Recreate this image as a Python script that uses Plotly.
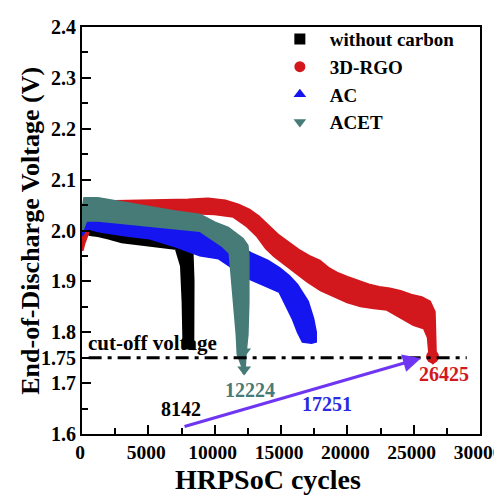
import plotly.graph_objects as go

FONT = "Liberation Serif"

# ---------------- data (cycles, voltage envelopes of each dense band) ----------------
# without carbon
black_up_x = [400, 1000, 2000, 3000, 4000, 5000, 6000, 6600, 7100, 7500, 7620, 7690]
black_up_y = [2.005, 2.01, 2.005, 2.0, 1.998, 1.995, 1.99, 1.982, 1.965, 1.93, 1.86, 1.77]
black_lo_x = [8350, 8370, 8300, 8000, 7000, 6000, 5000, 4000, 3000, 2000, 1200, 600, 400]
black_lo_y = [1.768, 1.90, 1.955, 1.962, 1.965, 1.968, 1.972, 1.975, 1.978, 1.985, 1.99, 1.992, 1.995]

# 3D-RGO
red_up_x = [0, 150, 500, 1200, 2500, 4000, 6000, 8000, 9500, 10800, 11800, 12600, 13300, 14000,
            14800, 15600, 16400, 17200, 17900, 18600, 19300, 20000, 20800, 21600, 22400, 23200,
            24000, 24800, 25600, 26200, 26550, 26650]
red_up_y = [1.99, 2.02, 2.045, 2.055, 2.057, 2.058, 2.058, 2.06, 2.062, 2.058, 2.05, 2.04, 2.027, 2.01,
            1.99, 1.975, 1.96, 1.948, 1.94, 1.925, 1.915, 1.908, 1.9, 1.893, 1.888, 1.885,
            1.88, 1.873, 1.868, 1.86, 1.84, 1.77]
red_lo_x = [26650, 26450, 26250, 26100, 25800, 25000, 24000, 23000, 22000, 21000, 20000, 19000,
            18000, 17000, 16400, 15500, 14500, 13900, 13200, 12400, 11400, 10000, 8000, 6000,
            4000, 2500, 1200, 500, 150, 0]
red_lo_y = [1.745, 1.74, 1.745, 1.79, 1.808, 1.815, 1.83, 1.845, 1.848, 1.852, 1.86, 1.872,
            1.883, 1.9, 1.912, 1.93, 1.95, 1.965, 1.99, 2.01, 2.028, 2.033, 2.035, 2.035,
            2.035, 2.035, 2.03, 2.0, 1.975, 1.96]

# AC
blue_up_x = [0, 300, 1500, 3500, 5000, 7000, 8900, 10300, 11400, 12700, 14000, 14900, 15600,
             16200, 16600, 17000, 17400, 17600]
blue_up_y = [2.0, 2.03, 2.028, 2.02, 2.015, 2.005, 1.995, 1.99, 1.975, 1.955, 1.94, 1.925, 1.91,
             1.893, 1.875, 1.86, 1.827, 1.80]
blue_lo_x = [17600, 17300, 16650, 16300, 15900, 15400, 14900, 14000, 12700, 11500, 10300, 8900,
             7000, 5100, 3500, 1500, 300, 0]
blue_lo_y = [1.782, 1.78, 1.782, 1.80, 1.827, 1.855, 1.88, 1.89, 1.905, 1.925, 1.946, 1.952,
             1.97, 1.985, 1.99, 1.998, 2.005, 1.99]

# ACET
teal_up_x = [0, 200, 1200, 3000, 5000, 7000, 8900, 10000, 11000, 11600, 12100, 12450, 12520,
             12520, 12450, 12300, 12224]
teal_up_y = [2.03, 2.063, 2.063, 2.055, 2.045, 2.037, 2.03, 2.015, 2.005, 1.993, 1.983, 1.97,
             1.95, 1.86, 1.796, 1.757, 1.718]
teal_lo_x = [12150, 11760, 11685, 11380, 11155, 10600, 10025, 8900, 7000, 5000, 3000, 1200, 300, 0]
teal_lo_y = [1.73, 1.757, 1.796, 1.892, 1.956, 1.97, 1.98, 2.0, 2.005, 2.01, 2.015, 2.02, 2.02, 2.0]

# end points
red_end_x, red_end_y = [26425], [1.752]
teal_end_x, teal_end_y = [12224, 12224], [1.762, 1.727]

series_names = ["without carbon", "3D-RGO", "AC", "ACET"]
series_colors = ["#000000", "#D3181D", "#1515F0", "#467B77"]
series_symbols = ["square", "circle", "triangle-up", "triangle-down"]

cutoff_v = 1.75
cutoff_range = [500, 29000]
labels_text = ["8142", "12224", "17251", "26425"]
labels_x = [7460, 12665, 18470, 27300]
labels_y = [1.649, 1.686, 1.659, 1.718]
labels_color = ["#000000", "#467B77", "#2A2AE0", "#D3181D"]
arrow_tail = (7615, 1.614)
arrow_head = (25550, 1.749)

y_ticks = [1.6, 1.7, 1.75, 1.8, 1.9, 2.0, 2.1, 2.2, 2.3, 2.4]
y_ticktext = ["1.6", "1.7", "1.75", "1.8", "1.9", "2.0", "2.1", "2.2", "2.3", "2.4"]
x_ticks = [0, 5000, 10000, 15000, 20000, 25000, 30000]
x_ticktext = ["0", "5000", "10000", "15000", "20000", "25000", "30000"]

# ---------------- figure ----------------
fig = go.Figure()

bands = [
    (black_up_x, black_up_y, black_lo_x, black_lo_y),
    (red_up_x, red_up_y, red_lo_x, red_lo_y),
    (blue_up_x, blue_up_y, blue_lo_x, blue_lo_y),
    (teal_up_x, teal_up_y, teal_lo_x, teal_lo_y),
]
for (ux, uy, lx, ly), c in zip(bands, series_colors):
    fig.add_trace(go.Scatter(
        x=ux + lx, y=uy + ly, mode="lines", fill="toself", fillcolor=c,
        line=dict(color=c, width=3), showlegend=False, hoverinfo="skip"))

fig.add_trace(go.Scatter(x=red_end_x, y=red_end_y, mode="markers", showlegend=False,
                         marker=dict(symbol="circle", size=13, color=series_colors[1])))
fig.add_trace(go.Scatter(x=teal_end_x, y=teal_end_y, mode="markers", showlegend=False,
                         marker=dict(symbol="triangle-down", size=12, color=series_colors[3])))

for n, c, s in zip(series_names, series_colors, series_symbols):
    fig.add_trace(go.Scatter(x=[None], y=[None], mode="markers", name=n,
                             marker=dict(symbol=s, size=11, color=c)))

fig.add_shape(type="line", xref="x", yref="y", x0=cutoff_range[0], x1=cutoff_range[1],
              y0=cutoff_v, y1=cutoff_v, line=dict(color="black", width=3, dash="13px,6px,4px,6px"))

fig.add_annotation(x=5350, y=1.778, xref="x", yref="y", text="cut-off voltage", showarrow=False,
                   font=dict(family=FONT, size=21, color="black", weight="bold"))
for t, x, y, c in zip(labels_text, labels_x, labels_y, labels_color):
    fig.add_annotation(x=x, y=y, xref="x", yref="y", text=t, showarrow=False,
                       font=dict(family=FONT, size=20, color=c, weight="bold"))

fig.add_annotation(x=arrow_head[0], y=arrow_head[1], ax=arrow_tail[0], ay=arrow_tail[1],
                   xref="x", yref="y", axref="x", ayref="y", text="", showarrow=True,
                   arrowhead=2, arrowsize=1.2, arrowwidth=3, arrowcolor="#6E36F2")

# axis titles placed as texts so that they sit where the reference has them
fig.add_annotation(x=-0.13, y=0.5, xref="paper", yref="paper", xanchor="center",
                   yanchor="middle", text="End-of-Discharge Voltage (V)", textangle=-90,
                   showarrow=False, font=dict(family=FONT, size=26, color="black", weight="bold"))
fig.add_annotation(x=0.467, y=-0.112, xref="paper", yref="paper", xanchor="center",
                   yanchor="middle", text="HRPSoC cycles",
                   showarrow=False, font=dict(family=FONT, size=28, color="black", weight="bold"))

# the page body adds an 8 px offset, so the figure is sized to fit the 502x498 window
fig.update_layout(
    width=494, height=490,
    margin=dict(l=74, r=22, t=13, b=64),
    paper_bgcolor="white", plot_bgcolor="white",
    font=dict(family=FONT, size=20, color="black", weight="bold"),
    legend=dict(x=0.472, y=1.017, xanchor="left", yanchor="top", bgcolor="rgba(0,0,0,0)",
                itemwidth=50,
                font=dict(family=FONT, size=19, color="black", weight="bold")),
    xaxis=dict(range=[0, 30000], tickmode="array", tickvals=x_ticks, ticktext=x_ticktext,
               ticks="inside", automargin=False, ticklabeloverflow="allow", ticklabelshift=-2,
               ticklen=9, tickwidth=2, tickcolor="black", showline=True, linewidth=2,
               linecolor="black", mirror=True, showgrid=False, zeroline=False,
               minor=dict(ticks="inside", ticklen=6, tickwidth=2, dtick=2500, tickcolor="black"),
               tickfont=dict(family=FONT, size=19.5, weight="bold")),
    yaxis=dict(range=[1.6, 2.4], tickmode="array", tickvals=y_ticks, ticktext=y_ticktext,
               ticks="inside", automargin=False, ticklabeloverflow="allow",
               ticklen=9, tickwidth=2, tickcolor="black",
               showline=True,
               linewidth=2, linecolor="black", mirror=True, showgrid=False, zeroline=False,
               minor=dict(ticks="inside", ticklen=6, tickwidth=2, tick0=1.6, dtick=0.05,
                          tickcolor="black"),
               tickfont=dict(family=FONT, size=20, weight="bold")),
)

fig.write_html("out.html")
